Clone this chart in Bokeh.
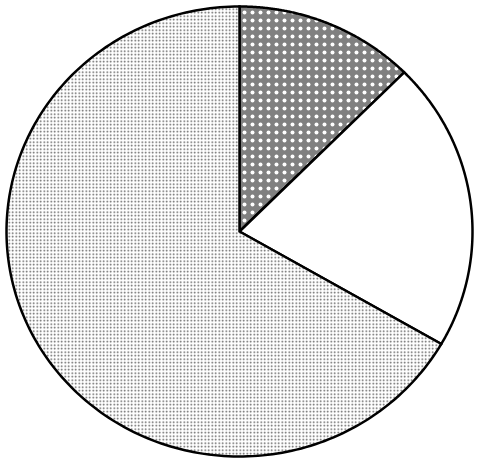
import numpy as np
from bokeh.plotting import figure
from bokeh.models import Range1d, ColumnDataSource
from bokeh.embed import file_html
from bokeh.resources import INLINE

# slice sizes, clockwise from 12 o'clock
labels = ["A", "B", "C"]
counts = [3, 5, 16]
fills = ["#808080", "#ffffff", "#ffffff"]
hatches = ["dot", " ", "dot"]
hatch_colors = ["#ffffff", "#000000", "#5a5a5a"]
hatch_scales = [8, 8, 3.5]

W, H = 480, 463
cx, cy = 239, 231       # pie centre on the canvas (px)
rx, ry = 233, 225       # slightly wider than tall, like the original

frac = np.array(counts) / sum(counts)
ends = np.pi / 2 - 2 * np.pi * np.cumsum(frac)
starts = np.concatenate([[np.pi / 2], ends[:-1]])

xs, ys = [], []
for a0, a1 in zip(starts, ends):
    t = np.linspace(a0, a1, 200)
    xs.append(np.concatenate([[0], rx * np.cos(t), [0]]))
    ys.append(np.concatenate([[0], ry * np.sin(t), [0]]))

src = ColumnDataSource(dict(xs=xs, ys=ys, label=labels, fill=fills,
                            hatch=hatches, hcol=hatch_colors, hscale=hatch_scales))

p = figure(width=W, height=H, output_backend="svg", toolbar_location=None,
           x_range=Range1d(-cx, W - cx), y_range=Range1d(-(H - cy), cy),
           min_border=0)
p.axis.visible = False
p.grid.visible = False
p.outline_line_color = None
p.background_fill_color = "white"

p.patches("xs", "ys", source=src, fill_color="fill", hatch_pattern="hatch",
          hatch_color="hcol", hatch_scale="hscale", hatch_weight=1.5,
          line_color="black", line_width=2.5, line_join="miter")

open("out.html", "w").write(file_html(p, INLINE))
